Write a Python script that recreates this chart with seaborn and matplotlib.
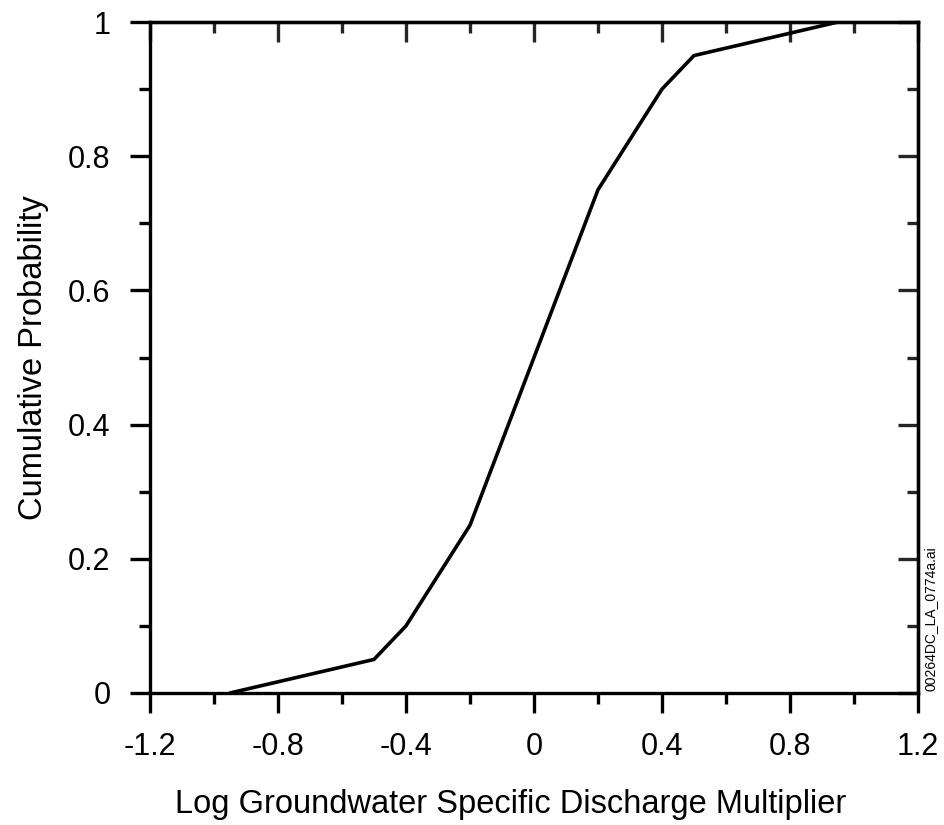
import numpy as np
import pandas as pd
import matplotlib
matplotlib.use("Agg")
import matplotlib.pyplot as plt
import seaborn as sns
from matplotlib.ticker import MultipleLocator

log_multiplier = [-0.95, -0.5, -0.4, -0.2, 0.0, 0.2, 0.4, 0.5, 0.95]
cum_prob = [0.0, 0.05, 0.1, 0.25, 0.5, 0.75, 0.9, 0.95, 1.0]
x_ticks = [-1.2, -0.8, -0.4, 0, 0.4, 0.8, 1.2]
x_labels = ["-1.2", "-0.8", "-0.4", "0", "0.4", "0.8", "1.2"]
y_ticks = [0, 0.2, 0.4, 0.6, 0.8, 1.0]
y_labels = ["0", "0.2", "0.4", "0.6", "0.8", "1"]

sns.set_theme(style="ticks")
plt.rcParams["font.family"] = ["Liberation Sans", "DejaVu Sans"]
plt.rcParams["text.color"] = "black"
plt.rcParams["axes.labelcolor"] = "black"

df = pd.DataFrame({"x": log_multiplier, "y": cum_prob})

fig = plt.figure(figsize=(9.45, 8.25), dpi=100)
ax = fig.add_axes([0.1587, 0.16, 0.9714 - 0.1587, 0.9733 - 0.16])
sns.lineplot(data=df, x="x", y="y", ax=ax, color="black", linewidth=2.6, sort=False)

ax.set_xlim(-1.2, 1.2)
ax.set_ylim(0, 1)
ax.set_xticks(x_ticks)
ax.set_xticklabels(x_labels)
ax.set_yticks(y_ticks)
ax.set_yticklabels(y_labels)
ax.xaxis.set_minor_locator(MultipleLocator(0.2))
ax.yaxis.set_minor_locator(MultipleLocator(0.1))

for s in ax.spines.values():
    s.set_visible(True)
    s.set_linewidth(2.4)
    s.set_color("black")

lw = 2.4
ax.tick_params(which="major", direction="out", length=14.4, width=lw, labelsize=22,
               color="black", labelcolor="black", pad=14)
ax.tick_params(which="minor", direction="out", length=8, width=lw, color="black")
ax.tick_params(which="both", top=False, right=False)

# inward ticks on the top and right frame
top = ax.secondary_xaxis("top")
top.set_xticks(x_ticks)
top.xaxis.set_minor_locator(MultipleLocator(0.2))
top.tick_params(which="major", direction="in", length=14.4, width=lw, labeltop=False)
top.tick_params(which="minor", direction="in", length=8, width=lw)
top.spines["top"].set_linewidth(lw)
right = ax.secondary_yaxis("right")
right.set_yticks(y_ticks)
right.yaxis.set_minor_locator(MultipleLocator(0.1))
right.tick_params(which="major", direction="in", length=14.4, width=lw, labelright=False)
right.tick_params(which="minor", direction="in", length=8, width=lw)
right.spines["right"].set_linewidth(lw)

ax.set_xlabel("Log Groundwater Specific Discharge Multiplier", fontsize=23.5, labelpad=19)
ax.xaxis.label.set_x(0.47)
ax.set_ylabel("Cumulative Probability", fontsize=23.5, labelpad=14)

fig.text(0.985, 0.162, "00264DC_LA_0774a.ai", rotation=90, fontsize=10,
         ha="center", va="bottom")

fig.savefig("out.png", dpi=100)
